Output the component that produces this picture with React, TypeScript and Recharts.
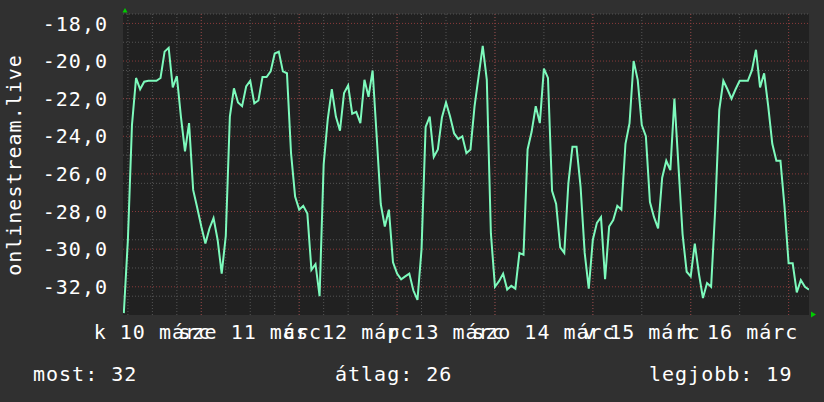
import React from 'react';
import { LineChart, Line, XAxis, YAxis, CartesianGrid } from 'recharts';

// hourly readings, hour 0 = 10 March 00:00
const startHour = 5;
const temps = [
  -33.4, -29.5, -23.4, -20.9, -21.5, -21.1, -21.05, -21.05, -21.05, -20.9,
  -19.5, -19.3, -21.4, -20.8, -22.96, -24.8, -23.3, -26.85, -27.8, -28.8,
  -29.7, -28.9, -28.35, -29.5, -31.3, -29.3, -22.95, -21.45, -22.2, -22.4,
  -21.35, -21.05, -22.25, -22.1, -20.85, -20.85, -20.55, -19.6, -19.5, -20.55,
  -20.65, -24.9, -27.2, -27.9, -27.7, -28.1, -31.1, -30.8, -32.5, -25.5,
  -23.1, -21.5, -22.95, -23.7, -21.7, -21.3, -22.8, -22.7, -23.3, -21.0,
  -21.9, -20.5, -24.0, -27.6, -28.8, -27.9, -30.7, -31.3, -31.6, -31.45,
  -31.3, -32.2, -32.7, -30.0, -23.5, -22.95, -25.1, -24.7, -23.0, -22.2,
  -22.95, -23.85, -24.15, -24.0, -24.9, -24.7, -22.4, -20.8, -19.2, -21.0,
  -29.15, -32.0, -31.7, -31.3, -32.15, -31.95, -32.1, -30.2, -30.3, -24.7,
  -23.75, -22.4, -23.3, -20.4, -20.9, -26.9, -27.6, -29.9, -30.2, -26.5,
  -24.55, -24.55, -26.7, -30.2, -32.1, -29.5, -28.6, -28.3, -31.6, -28.8,
  -28.45, -27.7, -27.9, -24.4, -23.3, -20.0, -21.0, -23.4, -24.0, -27.5,
  -28.3, -28.9, -26.2, -25.3, -25.8, -22.0, -25.6, -29.2, -31.2, -31.45,
  -29.7, -31.3, -32.6, -31.8, -32.0, -27.9, -22.6, -21.05, -21.5, -22.0,
  -21.5, -21.05, -21.05, -21.05, -20.5, -19.4, -21.4, -20.65, -22.4, -24.4,
  -25.3, -25.3, -27.75, -30.75, -30.75, -32.3, -31.65, -32.0, -32.15,
];

const dayTicks = [12, 36, 60, 84, 108, 132, 156];
const dayLabels = ['k 10 márc', 'sze 11 márc', 'cs 12 márc', 'p 13 márc', 'szo 14 márc', 'v 15 márc', 'h 16 márc'];
const yTicks = [-32, -30, -28, -26, -24, -22, -20, -18];
const legendNames = ['most', 'átlag', 'legjobb'];
const legendValues = [32, 26, 19];

const data = temps.map((t, i) => ({ hour: startHour + i, temp: t }));

const font = '"DejaVu Sans Mono", monospace';

const minorY: number[] = [];
for (let v = -33.5; v <= -17.5; v += 0.5) minorY.push(v);
const majorY = yTicks;
const minorX: number[] = [];
for (let h = 6; h <= 168; h += 6) minorX.push(h);
const majorX = [24, 48, 72, 96, 120, 144, 168];

const YTick = ({ x, y, payload }: any) => (
  <text x={x} y={y} dy="0.355em" textAnchor="end" fill="#fff" fontFamily={font} fontSize={20} letterSpacing={1}>
    {payload.value.toFixed(1).replace('.', ',')}
  </text>
);

const XTick = ({ x, y, payload }: any) => (
  <text x={x} y={y} dy={14} textAnchor="middle" fill="#fff" fontFamily={font} fontSize={20} letterSpacing={1}>
    {dayLabels[dayTicks.indexOf(payload.value)]}
  </text>
);

export default function App() {
  const legendX = [33, 335, 649];
  return (
    <div style={{ position: 'absolute', left: 0, top: 0, width: 824, height: 402, background: '#303030' }}>
      <LineChart width={824} height={402} data={data} margin={{ top: 14, right: 15, bottom: 0, left: 0 }}>
        <CartesianGrid
          fill="#212121"
          stroke="#555"
          strokeDasharray="1 2"
          horizontalValues={minorY}
          verticalValues={minorX}
        />
        <CartesianGrid
          stroke="#8a3a3a"
          strokeDasharray="1 2"
          horizontalValues={majorY}
          verticalValues={majorX}
        />
        <XAxis
          type="number"
          dataKey="hour"
          domain={[4.8, 173]}
          ticks={dayTicks}
          tick={<XTick />}
          tickSize={0}
          tickMargin={10}
          axisLine={false}
          height={87}
          allowDataOverflow
        />
        <YAxis
          type="number"
          domain={[-33.5, -17.5]}
          ticks={yTicks}
          tick={<YTick />}
          tickSize={0}
          tickMargin={15}
          axisLine={false}
          width={123}
          allowDataOverflow
        />
        <Line
          type="linear"
          dataKey="temp"
          stroke="#7dfabc"
          strokeWidth={2}
          dot={false}
          isAnimationActive={false}
        />
      </LineChart>
      <svg width={824} height={402} style={{ position: 'absolute', left: 0, top: 0, pointerEvents: 'none' }}>
        <polygon points="122.5,12.5 127.5,12.5 125,8" fill="#00cc00" />
        <polygon points="811,311.5 811,317.5 816,314.5" fill="#00cc00" />
        <text
          x={21}
          y={165}
          transform="rotate(-90 21 165)"
          textAnchor="middle"
          fill="#fff"
          fontFamily={font}
          fontSize={20}
          letterSpacing={1}
        >
          onlinestream.live
        </text>
        {legendNames.map((n, i) => (
          <text key={n} x={legendX[i]} y={381} fill="#fff" fontFamily={font} fontSize={20} letterSpacing={1}>
            {`${n}: ${legendValues[i]}`}
          </text>
        ))}
      </svg>
    </div>
  );
}
